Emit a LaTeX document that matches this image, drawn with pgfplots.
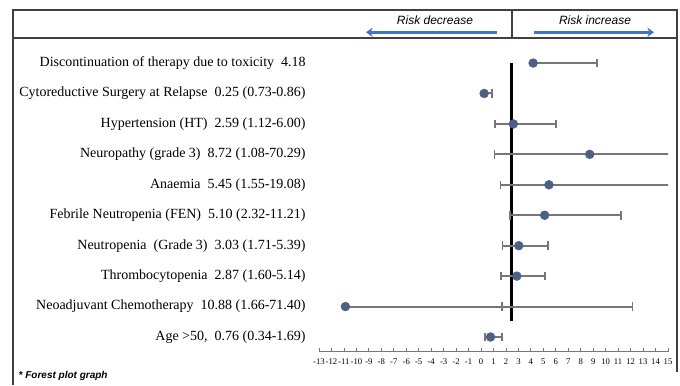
\documentclass[border=0pt]{standalone}
\usepackage{pgfplots}
\pgfplotsset{compat=1.18}
\usepackage{pgfplotstable}
\usetikzlibrary{arrows.meta}
\usepackage{fontspec}
\setmainfont{Liberation Serif}
\newfontfamily\arialfont{Liberation Sans}
\definecolor{markblue}{RGB}{76,96,132}
\definecolor{barg}{RGB}{118,118,118}
\definecolor{arrowblue}{RGB}{68,114,196}
\pgfplotstableread{
y   x      em      ep
10  4.18   0       5.12
9   0.25   0       0.61
8   2.59   1.47    3.41
7   8.72   7.64    61.57
6   5.45   3.90    13.63
5   5.10   2.78    6.11
4   3.03   1.32    2.36
3   2.87   1.27    2.27
2   -10.88 -12.54  23.02
1   0.76   0.42    0.93
}\forest
\begin{document}
\begin{tikzpicture}[x=0.75pt,y=0.75pt]
\useasboundingbox (0,0) rectangle (680,385);
% frame
\draw[line width=0.8pt,black!75] (13,0) -- (13,375) -- (677,375) -- (677,13);
\draw[line width=0.8pt,black!75] (13,347) -- (677,347);
\draw[line width=0.8pt,black!75] (512,347) -- (512,375);
\node[font=\arialfont\itshape\fontsize{9}{10}\selectfont] at (435,365) {Risk decrease};
\node[font=\arialfont\itshape\fontsize{9}{10}\selectfont] at (595,365) {Risk increase};
\draw[arrowblue,line width=2.4pt,-{Stealth[length=5pt,width=7pt]}] (497,352.7) -- (366,352.7);
\draw[arrowblue,line width=2.4pt,-{Stealth[length=5pt,width=7pt]}] (534,352.7) -- (654,352.7);
\node[font=\arialfont\bfseries\itshape\fontsize{7.5}{9}\selectfont,anchor=west] at (14,9) {* Forest plot graph};
\begin{axis}[
  at={(239.25pt,24.98pt)}, anchor=south west,
  scale only axis, width=261.75pt, height=227.9pt,
  xmin=-13, xmax=15, ymin=0.517, ymax=10.5,
  axis x line*=bottom, axis y line*=left,
  y axis line style={draw=none},
  x axis line style={barg, line width=0.9pt, -},
  xtick={-13,...,15},
  tick align=inside,
  major x tick style={barg, line width=0.6pt},
  major tick length=2.5pt,
  major y tick style={draw=none},
  xticklabel style={font=\fontsize{6.5}{7}\selectfont, yshift=-2pt},
  /pgf/number format/assume math mode=true,
  ytick={1,...,10},
  yticklabels={{Age >50,~ 0.76 (0.34-1.69)},
    {Neoadjuvant Chemotherapy~ 10.88 (1.66-71.40)},
    {Thrombocytopenia~ 2.87 (1.60-5.14)},
    {Neutropenia~ (Grade 3)~ 3.03 (1.71-5.39)},
    {Febrile Neutropenia (FEN)~ 5.10 (2.32-11.21)},
    {Anaemia~ 5.45 (1.55-19.08)},
    {Neuropathy (grade 3)~ 8.72 (1.08-70.29)},
    {Hypertension (HT)~ 2.59 (1.12-6.00)},
    {Cytoreductive Surgery at Relapse~ 0.25 (0.73-0.86)},
    {Discontinuation of therapy due to toxicity~ 4.18}},
  yticklabel style={font=\fontsize{10.5}{12}\selectfont, anchor=east, xshift=-6.5pt},
  clip=true,
]
\addplot[black, line width=2.3pt] coordinates {(2.45,1.53) (2.45,10)};
\addplot[only marks, mark=*, mark size=3.3pt, mark options={fill=markblue, draw=markblue},
  error bars/.cd, x dir=both, x explicit,
  error bar style={barg, line width=1.5pt},
  error mark=|,
  error mark options={barg, line width=1.2pt, mark size=3.2pt}]
  table[x=x, y=y, x error minus=em, x error plus=ep] {\forest};
\end{axis}
\end{tikzpicture}
\end{document}
